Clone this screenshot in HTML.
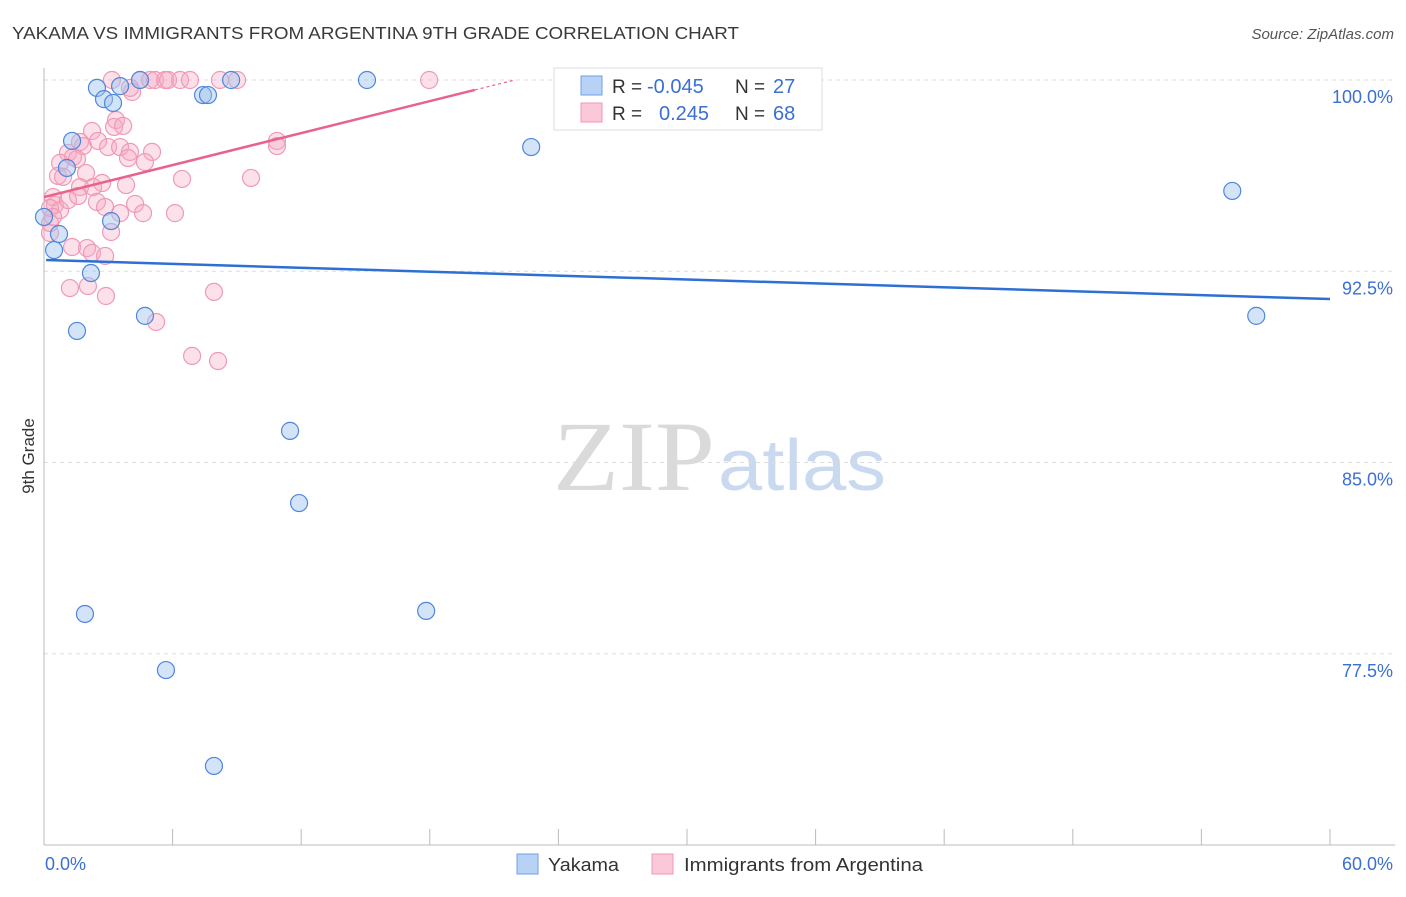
<!DOCTYPE html>
<html><head><meta charset="utf-8"><style>
body{margin:0;background:#fff;font-family:"Liberation Sans",sans-serif;}
</style></head><body>
<svg id="chart" width="1406" height="892" xmlns="http://www.w3.org/2000/svg" font-family="Liberation Sans, sans-serif">
<text x="12" y="39" font-size="17.5" fill="#3a3a3a" textLength="727" lengthAdjust="spacingAndGlyphs">YAKAMA VS IMMIGRANTS FROM ARGENTINA 9TH GRADE CORRELATION CHART</text>
<text x="1394" y="39" font-size="15" fill="#555" font-style="italic" text-anchor="end">Source: ZipAtlas.com</text>
<g>
<text x="553" y="490" font-size="100" fill="#dadada" style="font-family:'Liberation Serif',serif" textLength="162" lengthAdjust="spacingAndGlyphs">ZIP</text>
<text x="718" y="490" font-size="72" fill="#c9d9f0" textLength="168" lengthAdjust="spacingAndGlyphs">atlas</text>
</g>
<g id="grid"></g>
<g id="axes"></g>
<g id="pts"></g>
<g id="trend"></g>
<text transform="translate(34,456) rotate(-90)" font-size="17" fill="#333" text-anchor="middle">9th Grade</text>
<g>
<rect x="554" y="68" width="268" height="62" fill="#fff" stroke="#ddd"/>
<rect x="581" y="76" width="21" height="19" fill="#b8d2f5" stroke="#6fa0e6"/>
<rect x="581" y="103" width="21" height="19" fill="#fac8d8" stroke="#ef97b3"/>
<text x="612" y="93" font-size="19" fill="#333">R =</text>
<text x="647" y="93" font-size="20" fill="#3b6fd4">-0.045</text>
<text x="735" y="93" font-size="19" fill="#333">N =</text>
<text x="773" y="93" font-size="20" fill="#3b6fd4">27</text>
<text x="612" y="120" font-size="19" fill="#333">R =</text>
<text x="659" y="120" font-size="20" fill="#3b6fd4">0.245</text>
<text x="735" y="120" font-size="19" fill="#333">N =</text>
<text x="773" y="120" font-size="20" fill="#3b6fd4">68</text>
</g>
<g>
<rect x="517" y="854" width="21" height="20" fill="#b8d2f5" stroke="#6fa0e6"/>
<text x="548" y="871" font-size="18.5" fill="#333" textLength="71" lengthAdjust="spacingAndGlyphs">Yakama</text>
<rect x="652" y="854" width="21" height="20" fill="#fac8d8" stroke="#ef97b3"/>
<text x="684" y="871" font-size="18.5" fill="#333" textLength="239" lengthAdjust="spacingAndGlyphs">Immigrants from Argentina</text>
</g>
</svg>
<script>
const yTicks=[100,92.5,85,77.5];
const yTickLabels=["100.0%","92.5%","85.0%","77.5%"];
const xTickLabels=["0.0%","60.0%"];
const blueX=[2.47,2.80,3.22,3.55,4.48,7.42,7.65,8.73,15.07,22.73,55.44,56.56,1.31,1.07,0.70,0.47,2.19,3.13,1.54,4.71,11.48,11.90,1.91,5.69,17.83,7.93,0];
const blueY=[99.69,99.25,99.10,99.76,100,99.41,99.41,100,100,97.37,95.65,90.75,97.61,96.55,93.96,93.33,92.43,94.47,90.16,90.75,86.24,83.41,79.06,76.86,79.18,73.10,94.63];
const pinkX=[3.17,4.48,4.95,5.18,5.65,5.79,6.35,6.81,8.21,9.01,17.97,4.11,4.01,3.36,3.27,3.69,2.24,1.68,1.82,2.52,2.99,3.55,4.01,3.92,5.04,4.71,10.87,10.87,1.12,1.35,1.54,0.75,0.65,0.89,1.96,2.71,2.29,1.68,3.83,6.44,9.66,0.42,0.51,0.28,0.75,1.12,1.59,2.47,2.85,3.55,4.25,4.62,6.11,3.13,0.28,0.28,0.42,1.31,2.01,2.24,2.85,1.21,2.05,2.89,7.93,5.23,6.91,8.12];
const pinkY=[100,100,100,100,100,100,100,100,100,100,100,99.53,99.69,98.43,98.16,98.20,98.0,97.57,97.41,97.61,97.37,97.37,97.18,96.94,97.18,96.78,97.61,97.41,97.14,96.98,96.90,96.75,96.24,96.20,96.35,95.96,95.80,95.80,95.88,96.12,96.16,95.41,95.10,94.98,94.90,95.29,95.45,95.22,95.02,94.78,95.14,94.78,94.78,94.04,94.0,94.39,94.63,93.45,93.41,93.22,93.10,91.84,91.92,91.53,91.69,90.51,89.18,88.98];
const blueTrend=[92.94,91.41];
const pinkTrend=[95.41,99.61];
const NS="http://www.w3.org/2000/svg";
const sx=v=>44+v*(1286/60);
const sy=v=>80+(100-v)*25.5;
function mk(p,t,a){const e=document.createElementNS(NS,t);for(const k in a)e.setAttribute(k,a[k]);p.appendChild(e);return e;}
const grid=document.getElementById('grid'),axes=document.getElementById('axes');
yTicks.forEach((t,i)=>{
 const l=mk(grid,'line',{x1:44,x2:1395,y1:sy(t),y2:sy(t),stroke:'#ddd','stroke-dasharray':'4,4'});
 
 
 const tx=mk(axes,'text',{x:1393,y:sy(t)+23,'font-size':18,fill:'#3b6fd4','text-anchor':'end'});
 tx.textContent=yTickLabels[i];
 
 
});
mk(axes,'line',{x1:44,x2:44,y1:68,y2:845,stroke:'#bbb'});
mk(axes,'line',{x1:44,x2:1395,y1:845,y2:845,stroke:'#bbb'});
for(let i=1;i<=10;i++){const l=mk(axes,'line',{x1:sx(i*6),x2:sx(i*6),y1:829,y2:845,stroke:'#bbb'});
 
 }
const xl0=mk(axes,'text',{x:45,y:870,'font-size':18,fill:'#3b6fd4'});xl0.textContent=xTickLabels[0];


const xl1=mk(axes,'text',{x:1393,y:870,'font-size':18,fill:'#3b6fd4','text-anchor':'end'});xl1.textContent=xTickLabels[1];


const pts=document.getElementById('pts');
pinkX.forEach((x,i)=>{const c=mk(pts,'circle',{cx:sx(x),cy:sy(pinkY[i]),r:8.5,fill:'rgba(246,170,195,0.35)',stroke:'#ef9ab5','stroke-width':1.2});
 
 });
blueX.forEach((x,i)=>{const c=mk(pts,'circle',{cx:sx(x),cy:sy(blueY[i]),r:8.5,fill:'rgba(160,195,240,0.45)',stroke:'#4f86dc','stroke-width':1.2});
 
 });
const tr=document.getElementById('trend');
const b=mk(tr,'line',{x1:sx(0.1),y1:sy(blueTrend[0]),x2:sx(60),y2:sy(blueTrend[1]),stroke:'#2d6fd4','stroke-width':2.5});


const slope=(pinkTrend[1]-pinkTrend[0])/20.1;
const p=mk(tr,'line',{x1:sx(0),y1:sy(pinkTrend[0]),x2:sx(20.1),y2:sy(pinkTrend[1]),stroke:'#e8638c','stroke-width':2.5});


const pd=mk(tr,'line',{x1:sx(20.1),y1:sy(pinkTrend[1]),x2:sx(22),y2:sy(pinkTrend[0]+slope*22),stroke:'#e8638c','stroke-width':1.2,'stroke-dasharray':'3,3'});


</script>
</body></html>
